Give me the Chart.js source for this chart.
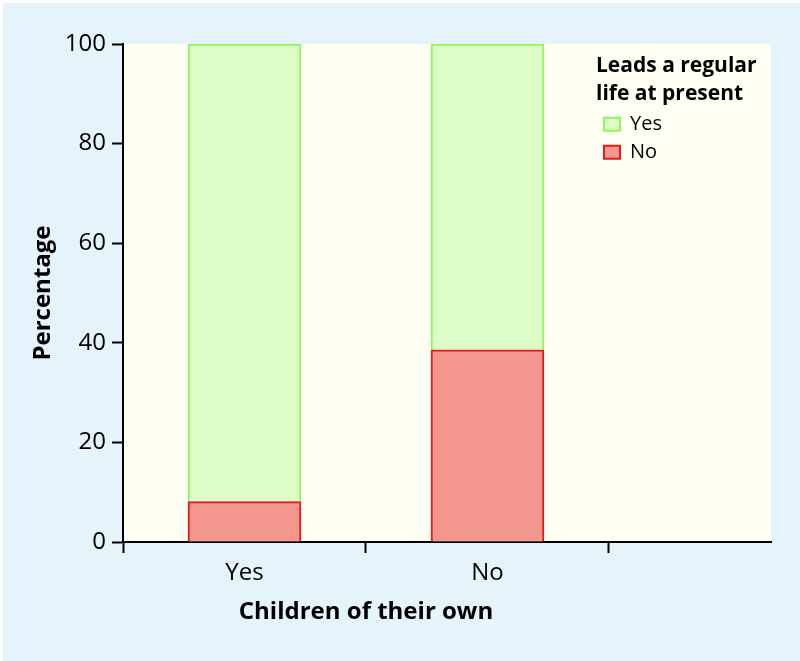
<!DOCTYPE html>
<html>
<head>
<meta charset="utf-8">
<script src="https://cdn.jsdelivr.net/npm/chart.js@4/dist/chart.umd.min.js"></script>
<style>
  html, body { margin: 0; padding: 0; background: #e4f4fa; }
  #wrap { width: 800px; height: 661px; }
</style>
</head>
<body>
<div id="wrap"><canvas id="chart" width="800" height="661"></canvas></div>
<script>
// ---- data ----
const categories = ['Yes', 'No'];
const seriesNames = ['Yes', 'No'];
const regularLifeYes = [91.9, 61.4];
const regularLifeNo = [8.1, 38.6];
const yTickValues = [0, 20, 40, 60, 80, 100];
const xAxisTitle = 'Children of their own';
const yAxisTitle = 'Percentage';
const legendTitle = ['Leads a regular', 'life at present'];

// ---- styling ----
const FONT = "'Open Sans', 'Noto Sans', sans-serif";
const BLUE_BG = '#e4f4fa';
const CREAM = '#fffff4';

const toPoints = arr => arr.map((v, i) => ({ x: i, y: v }));

const bgPlugin = {
  id: 'bg',
  beforeDraw(chart) {
    const { ctx, chartArea: a } = chart;
    ctx.save();
    ctx.fillStyle = BLUE_BG;
    ctx.fillRect(0, 0, chart.width, chart.height);
    ctx.fillStyle = '#ffffff';
    ctx.fillRect(0, 0, chart.width, 3);
    ctx.fillRect(0, 0, 3, chart.height);
    ctx.fillStyle = CREAM;
    ctx.fillRect(a.left, a.top, a.right - a.left, a.bottom - a.top);
    ctx.restore();
  }
};

const placePlugin = {
  id: 'place',
  afterLayout(chart) {
    const a = chart.chartArea;
    const lg = chart.legend;
    if (lg) {
      lg.left = a.right - 175;
      lg.top = a.top + 12;
      lg.right = a.right;
      lg.bottom = a.bottom;
      lg.width = lg.right - lg.left;
      lg.height = lg.bottom - lg.top;
    }
    const xs = chart.scales.x;
    const t = chart.scales.xTitle;
    if (xs && t) {
      t.left = xs.getPixelForValue(-0.5);
      t.right = xs.getPixelForValue(categories.length - 0.5);
    }
  }
};

new Chart(document.getElementById('chart'), {
  type: 'bar',
  data: {
    datasets: [
      {
        label: seriesNames[1],
        data: toPoints(regularLifeNo),
        backgroundColor: '#f2968e',
        borderColor: '#e81818',
        borderWidth: 2,
        barThickness: 113
      },
      {
        label: seriesNames[0],
        data: toPoints(regularLifeYes),
        backgroundColor: '#dcfcc8',
        borderColor: '#8cf85c',
        borderWidth: 2,
        barThickness: 113
      }
    ]
  },
  options: {
    responsive: false,
    animation: false,
    devicePixelRatio: 1,
    layout: { padding: { top: 44, right: 29, left: 0, bottom: 0 } },
    scales: {
      x: {
        type: 'linear',
        stacked: true,
        offset: false,
        min: -0.5,
        max: 2.1667,
        z: 1,
        afterBuildTicks: s => {
          const vals = [];
          for (let i = 0; i <= categories.length; i++) {
            vals.push(i - 0.5);
            if (i < categories.length) vals.push(i);
          }
          s.ticks = vals.map(v => ({ value: v }));
        },
        ticks: {
          autoSkip: false,
          maxRotation: 0,
          padding: 6,
          color: '#000',
          font: { family: FONT, size: 24 },
          callback: v => (Number.isInteger(v) ? categories[v] : '')
        },
        grid: {
          display: true,
          offset: false,
          drawOnChartArea: false,
          drawTicks: true,
          tickLength: 11,
          tickWidth: 2,
          tickColor: ctx => (ctx.tick && Number.isInteger(ctx.tick.value) ? 'rgba(0,0,0,0)' : '#000')
        },
        border: { display: true, color: '#000', width: 2 },
        afterFit: s => { s.height = 50; }
      },
      xTitle: {
        type: 'linear',
        position: 'bottom',
        display: true,
        offset: false,
        grid: { display: false },
        border: { display: false },
        ticks: { display: false },
        title: {
          display: true,
          text: xAxisTitle,
          color: '#000',
          font: { family: FONT, size: 24, weight: 'bold', lineHeight: 1.2 },
          padding: { top: 0, bottom: 34 }
        },
        afterFit: s => { s.height = 69; }
      },
      y: {
        stacked: true,
        min: 0,
        max: 100,
        z: 1,
        afterBuildTicks: s => { s.ticks = yTickValues.map(v => ({ value: v })); },
        ticks: {
          padding: 6,
          color: '#000',
          font: { family: FONT, size: 24 }
        },
        grid: {
          drawOnChartArea: false,
          drawTicks: true,
          tickLength: 11,
          tickWidth: 2,
          tickColor: '#000'
        },
        border: { display: true, color: '#000', width: 2 },
        title: {
          display: true,
          text: yAxisTitle,
          color: '#000',
          font: { family: FONT, size: 24, weight: 'bold', lineHeight: 1.2 },
          padding: { top: 29, bottom: 0 }
        },
        afterFit: s => { s.width = 123; }
      }
    },
    plugins: {
      tooltip: { enabled: false },
      legend: {
        position: 'chartArea',
        align: 'start',
        reverse: true,
        title: {
          display: true,
          text: legendTitle,
          position: 'start',
          color: '#000',
          font: { family: FONT, size: 21, weight: 'bold', lineHeight: 1.3 },
          padding: { top: 0, bottom: 23 }
        },
        labels: {
          color: '#000',
          font: { family: FONT, size: 20 },
          boxWidth: 16,
          boxHeight: 13,
          padding: 8
        }
      }
    }
  },
  plugins: [bgPlugin, placePlugin]
});
</script>
</body>
</html>
